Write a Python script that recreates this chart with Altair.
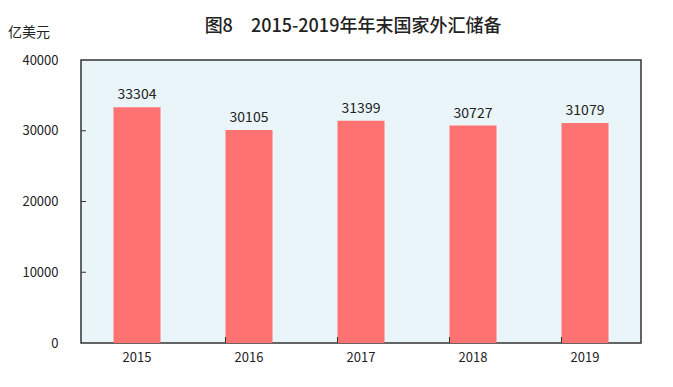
import altair as alt
import pandas as pd

years = ["2015", "2016", "2017", "2018", "2019"]
reserves = [33304, 30105, 31399, 30727, 31079]
y_ticks = [0, 10000, 20000, 30000, 40000]
unit_label = ["亿美元"]

df = pd.DataFrame({"year": years, "value": reserves})
tick_df = pd.DataFrame({"t": y_ticks[1:-1]})
unit_df = pd.DataFrame({"u": unit_label})

FONT = "Noto Sans CJK SC"

x = alt.X("year:N", sort=years,
          scale=alt.Scale(paddingInner=0.58, paddingOuter=0.29),
          axis=alt.Axis(title=None, labelAngle=0, ticks=False, domain=False,
                        labelPadding=8, labelFontSize=13, labelColor="#222",
                        labelFont=FONT))
y = alt.Y("value:Q", scale=alt.Scale(domain=[0, 40000], nice=False),
          axis=alt.Axis(values=y_ticks, title=None, format="d",
                        ticks=False, domain=False, grid=False, labelPadding=23,
                        labelFontSize=13, labelColor="#222", labelFont=FONT))

bars = alt.Chart(df).mark_bar(color="#FF7272").encode(x=x, y=y)
labels = alt.Chart(df).mark_text(dy=-12, fontSize=14, color="#222", font=FONT).encode(
    x=alt.X("year:N", sort=years), y="value:Q", text="value:Q")

xticks = alt.Chart(df.iloc[1:]).mark_rule(color="#333", strokeWidth=1).encode(
    x=alt.X("year:N", sort=years, bandPosition=0),
    y=alt.value(283), y2=alt.value(277))
yticks = alt.Chart(tick_df).mark_rule(color="#333", strokeWidth=1).encode(
    y=alt.Y("t:Q"), x=alt.value(0), x2=alt.value(5))
unit = alt.Chart(unit_df).mark_text(align="left", baseline="middle", fontSize=14,
                                    color="#222", font=FONT).encode(
    text="u:N", x=alt.value(-73), y=alt.value(-27))

chart = alt.layer(bars, labels, xticks, yticks, unit).properties(
    width=560, height=283,
    autosize=alt.AutoSizeParams(type="none"),
    padding={"left": 81, "top": 60, "right": 32, "bottom": 44},
    background="white",
    title=alt.TitleParams("图8　2015-2019年年末国家外汇储备", fontSize=18,
                          font=FONT, fontWeight=500, color="#222",
                          anchor="middle", dx=-8, offset=22, dy=32),
).configure_view(fill="#EAF5F9", stroke="#333", strokeWidth=1.5)

chart.save("out.html", embed_options={"renderer": "svg", "actions": False})
